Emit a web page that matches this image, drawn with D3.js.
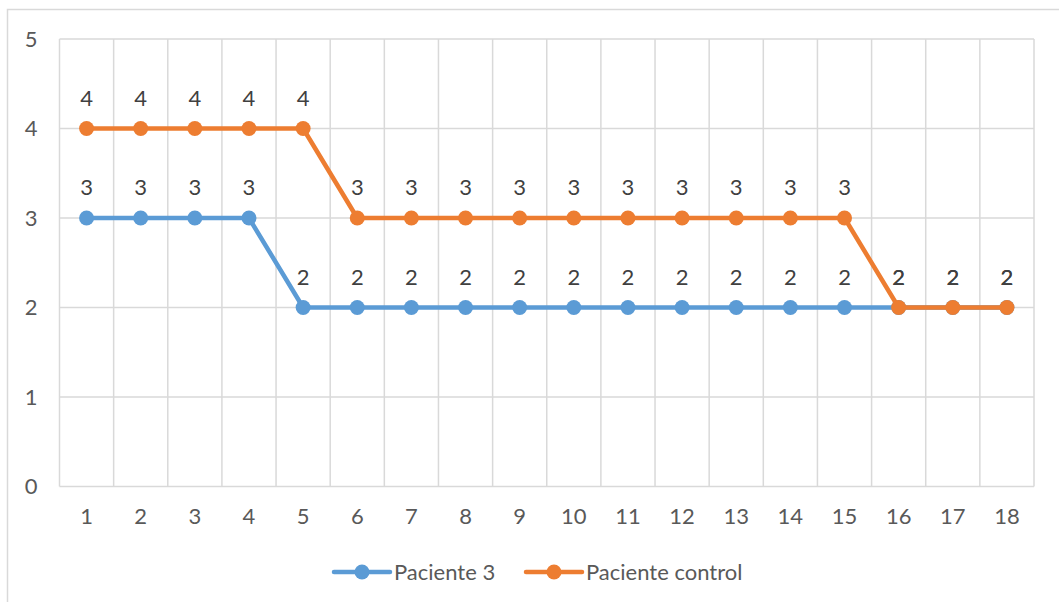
<!DOCTYPE html>
<html>
<head>
<meta charset="utf-8">
<script src="https://cdn.jsdelivr.net/npm/d3@7"></script>
<style>
  html, body { margin: 0; padding: 0; background: #fff; }
  svg { display: block; font-family: Lato, "Open Sans", sans-serif; }
</style>
</head>
<body>
<svg id="chart" width="1059" height="602"></svg>
<script>
// Sessions on the x axis
const categories = [1, 2, 3, 4, 5, 6, 7, 8, 9, 10, 11, 12, 13, 14, 15, 16, 17, 18];
// Scores per session
const paciente3 = [3, 3, 3, 3, 2, 2, 2, 2, 2, 2, 2, 2, 2, 2, 2, 2, 2, 2];
const pacienteControl = [4, 4, 4, 4, 4, 3, 3, 3, 3, 3, 3, 3, 3, 3, 3, 2, 2, 2];
const yTicks = [0, 1, 2, 3, 4, 5];

const series = [
  { name: "Paciente 3", values: paciente3, color: "#5B9BD5" },
  { name: "Paciente control", values: pacienteControl, color: "#ED7D31" }
];

const svg = d3.select("#chart");
const plot = { left: 59.5, right: 1034, top: 39, bottom: 486.5 };
const textColor = "#595959";
const gridColor = "#d9d9d9";
const fontSize = "22px";

// outer chart frame (extends past the right and bottom edges)
svg.append("rect")
  .attr("x", 7.5).attr("y", 9.5)
  .attr("width", 1070).attr("height", 620)
  .attr("fill", "#fff").attr("stroke", "#d9d9d9").attr("stroke-width", 1.5);

const x = d3.scaleBand().domain(categories).range([plot.left, plot.right]).paddingInner(0).paddingOuter(0);
const y = d3.scaleLinear().domain([0, 5]).range([plot.bottom, plot.top]);
const cx = d => x(d) + x.bandwidth() / 2;

// horizontal gridlines
svg.append("g").selectAll("line").data(yTicks).join("line")
  .attr("x1", plot.left).attr("x2", plot.right)
  .attr("y1", d => y(d)).attr("y2", d => y(d))
  .attr("stroke", gridColor).attr("stroke-width", 1.5);

// vertical gridlines at category boundaries
const bounds = categories.map(c => x(c)).concat([plot.right]);
svg.append("g").selectAll("line").data(bounds).join("line")
  .attr("x1", d => d).attr("x2", d => d)
  .attr("y1", plot.top).attr("y2", plot.bottom)
  .attr("stroke", gridColor).attr("stroke-width", 1.5);

// y axis labels
const yAxis = d3.axisLeft(y).tickValues(yTicks).tickFormat(d3.format("d")).tickSize(0).tickPadding(22);
const yg = svg.append("g").attr("transform", `translate(${plot.left},0)`).call(yAxis);
yg.select(".domain").remove();
yg.selectAll("text").attr("fill", textColor).style("font-size", fontSize).style("font-family", "Lato, sans-serif");

// x axis labels
const xAxis = d3.axisBottom(x).tickSize(0).tickPadding(22);
const xg = svg.append("g").attr("transform", `translate(0,${plot.bottom})`).call(xAxis);
xg.select(".domain").remove();
xg.selectAll("text").attr("fill", textColor).style("font-size", fontSize).style("font-family", "Lato, sans-serif");

const line = d3.line().x((d, i) => cx(categories[i])).y(d => y(d));

series.forEach(s => {
  const g = svg.append("g");
  g.append("path").datum(s.values)
    .attr("d", line).attr("fill", "none")
    .attr("stroke", s.color).attr("stroke-width", 4.5)
    .attr("stroke-linejoin", "round").attr("stroke-linecap", "round");
  g.selectAll("circle").data(s.values).join("circle")
    .attr("cx", (d, i) => cx(categories[i])).attr("cy", d => y(d))
    .attr("r", 7.5).attr("fill", s.color);
});

// data labels above each point
series.forEach(s => {
  svg.append("g").selectAll("text").data(s.values).join("text")
    .attr("x", (d, i) => cx(categories[i]))
    .attr("y", d => y(d) - 23)
    .attr("text-anchor", "middle")
    .attr("fill", "#404040")
    .style("font-size", fontSize)
    .text(d => d);
});

// legend
const legend = svg.append("g");
const legendItems = [
  { s: series[0], x0: 334 },
  { s: series[1], x0: 526 }
];
legendItems.forEach(({ s, x0 }) => {
  const ly = 572;
  legend.append("line")
    .attr("x1", x0).attr("x2", x0 + 56).attr("y1", ly).attr("y2", ly)
    .attr("stroke", s.color).attr("stroke-width", 4.5).attr("stroke-linecap", "round");
  legend.append("circle").attr("cx", x0 + 28).attr("cy", ly).attr("r", 7.5).attr("fill", s.color);
  legend.append("text")
    .attr("x", x0 + 60).attr("y", ly + 8)
    .attr("fill", textColor).style("font-size", fontSize)
    .text(s.name);
});
</script>
</body>
</html>
